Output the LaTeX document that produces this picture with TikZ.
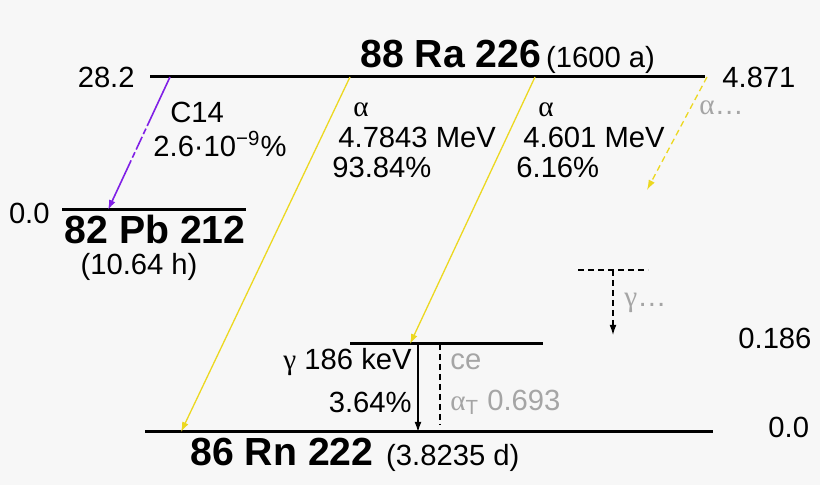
\documentclass[tikz,border=0pt]{standalone}
\usepackage{fontspec}
\setmainfont{Liberation Sans}
\newfontfamily\greekfont{Liberation Serif}
\usepackage{tikz}
\usetikzlibrary{arrows.meta}
\definecolor{bgcol}{RGB}{247,247,247}
\definecolor{alphacol}{RGB}{236,216,32}
\definecolor{clustercol}{RGB}{128,32,230}
\definecolor{faintcol}{RGB}{165,165,165}
\newcommand{\gra}{{\greekfont α}}
\newcommand{\grg}{{\greekfont γ}}

\begin{document}
\begin{tikzpicture}[x=0.5pt, y=-0.5pt,
        level/.style={line width=1.5pt, draw=black},
        decay/.style={line width=0.65pt, -{Latex[length=5pt, width=3.4pt]}},
        dashes/.style={dash pattern=on 3pt off 2pt},
        txt/.style={inner sep=0pt, font=\fontsize{14.6}{16}\selectfont},
        nuc/.style={inner sep=0pt, font=\fontsize{19.6}{22}\selectfont\bfseries},
        faint/.style={txt, text=faintcol}]
        \fill[bgcol] (0,0) rectangle (820,485);
        \useasboundingbox (0,0) rectangle (820,485);

        \coordinate (raL) at (150,77);   \coordinate (raR) at (705,77);
        \coordinate (pbL) at (62,210);   \coordinate (pbR) at (246,210);
        \coordinate (rnaL) at (350,344); \coordinate (rnaR) at (543,344);
        \coordinate (rnL) at (145,432);  \coordinate (rnR) at (713,432);
        \coordinate (gxL) at (578,270);  \coordinate (gxR) at (648,270);
        \draw[level] (raL) -- (raR);
        \draw[level] (pbL) -- (pbR);
        \draw[level] (rnaL) -- (rnaR);
        \draw[level] (rnL) -- (rnR);
        \draw[line width=0.6pt, dashes] (gxL) -- (gxR);

        \node[txt, anchor=east] (raE) at (135,77) {28.2};
        \node[txt, anchor=west] (raEr) at (722,77) {4.871};
        \node[nuc, anchor=base west] (ra) at (360,68) {88 Ra 226};
        \node[txt, anchor=base west] (raT) at ([xshift=2pt]ra.base east) {(1600 a)};

        \node[txt, anchor=east] (pbE) at (50,213) {0.0};
        \node[nuc, anchor=base] (pb) at (155,244) {82 Pb 212};
        \node[txt, anchor=base] (pbT) at (139,275) {(10.64 h)};

        \node[txt, anchor=west] (rnaE) at (738,338) {0.186};
        \node[txt, anchor=west] (rnE) at (768,427) {0.0};
        \node[nuc, anchor=base west] (rn) at (190,466) {86 Rn 222};
        \node[txt, anchor=base west] (rnT) at ([xshift=6pt]rn.base east) {(3.8235 d)};

        \node[txt, anchor=west] (c14) at (170,112) {C14};
        \node[txt, anchor=west] (c14p) at (153,144) {2.6·10\textsuperscript{−9}\%};
        \node[txt, anchor=west] (a1) at (353,110) {\gra};
        \node[txt, anchor=west] (a1e) at (338,137) {4.7843 MeV};
        \node[txt, anchor=west] (a1p) at (332,167) {93.84\%};
        \node[txt, anchor=west] (a2) at (538,110) {\gra};
        \node[txt, anchor=west] (a2e) at (523,137) {4.601 MeV};
        \node[txt, anchor=west] (a2p) at (516,167) {6.16\%};
        \node[faint, anchor=west] (a3) at (699,108) {\gra…};
        \node[faint, anchor=west] (gx) at (624,303) {\grg…};
        \node[txt, anchor=east] (g1) at (412,362) {\grg{} 186 keV};
        \node[txt, anchor=east] (g1p) at (412,402) {3.64\%};
        \node[faint, anchor=west] (ce) at (450,362) {ce};
        \node[faint, anchor=west] (ceT) at (450,402) {\gra\textsubscript{T} 0.693};

        \coordinate (c14s) at (170,77);  \coordinate (c14t) at (108,210);
        \coordinate (a1s) at (350,77);   \coordinate (a1t) at (181,432);
        \coordinate (a2s) at (535,77);   \coordinate (a2t) at (410,344);
        \coordinate (a3s) at (707,77);   \coordinate (a3t) at (647,190);
        \coordinate (g1s) at (418,344);  \coordinate (g1t) at (418,432);
        \coordinate (ces) at (440,344);  \coordinate (cet) at (440,425);
        \coordinate (gxs) at (613,270);  \coordinate (gxt) at (613,335);
        \draw[decay, clustercol, line width=0.8pt, dash pattern=on 27pt off 1.5pt on 3pt off 1.5pt on 7pt off 1.5pt on 3pt off 1.5pt on 80pt] (c14s) -- (c14t);
        \draw[decay, alphacol] (a1s) -- (a1t);
        \draw[decay, alphacol] (a2s) -- (a2t);
        \draw[decay, alphacol, dashes] (a3s) -- (a3t);
        \draw[decay] (g1s) -- (g1t);
        \draw[line width=0.6pt, dashes] (ces) -- (cet);
        \draw[decay, dashes] (gxs) -- (gxt);
    \end{tikzpicture}
\end{document}
